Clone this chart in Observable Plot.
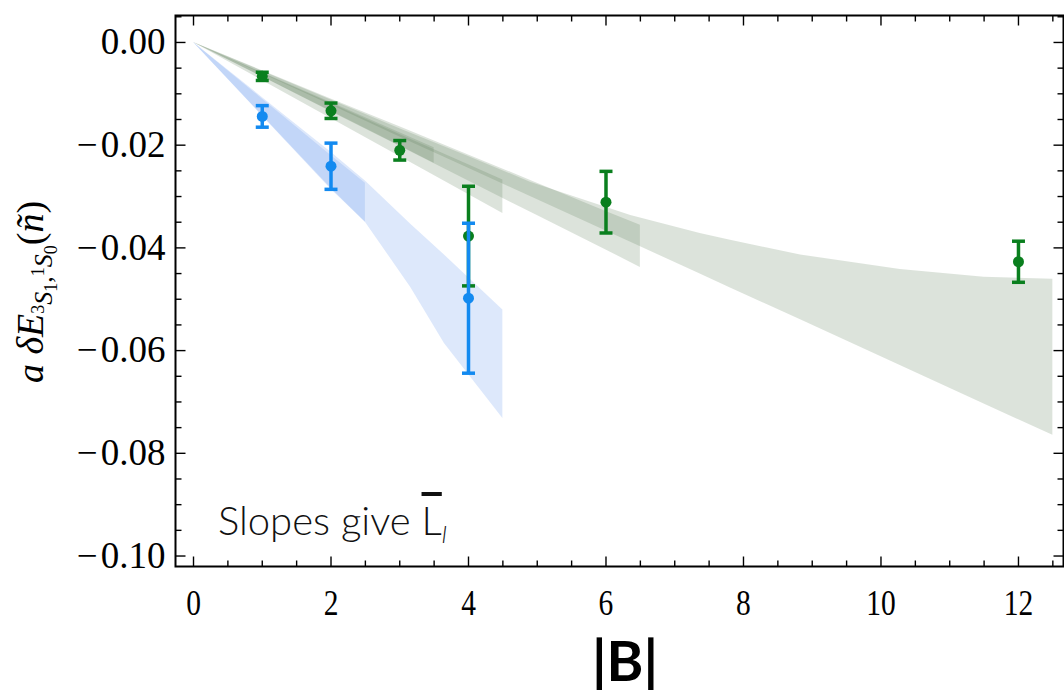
<!DOCTYPE html>
<html><head><meta charset="utf-8">
<script src="https://cdn.jsdelivr.net/npm/d3@7"></script>
<script src="https://cdn.jsdelivr.net/npm/@observablehq/plot@0.6"></script>
<style>body{margin:0;background:#fff;}</style>
</head><body><div id="chart"></div>
<script>
// ---- data ----
const greenB = [1, 2, 3, 4, 6, 12];
const greenE = [-0.0066, -0.0133, -0.0210, -0.0377, -0.0311, -0.0427];
const greenErr = [0.0008, 0.0015, 0.0019, 0.0097, 0.0060, 0.0040];
const blueB = [1, 2, 4];
const blueE = [-0.0144, -0.0241, -0.0498];
const blueErr = [0.0021, 0.0045, 0.0146];

// fit bands (blue)
const bandB1X  = [0, 1, 2, 2.5];
const bandB1Hi = [0, -0.0110, -0.0220, -0.0274];
const bandB1Lo = [0, -0.0143, -0.0286, -0.0350];
const bandB2X  = [0, 1, 2, 2.5, 3.16, 3.65, 4.5];
const bandB2Hi = [0, -0.0107, -0.0214, -0.0270, -0.0354, -0.0414, -0.0521];
const bandB2Lo = [0, -0.0142, -0.0284, -0.0350, -0.0477, -0.0586, -0.0732];
// fit bands (green)
const bandG1X  = [0, 1, 2, 3, 3.5];
const bandG1Hi = [0, -0.0059, -0.0117, -0.0176, -0.0205];
const bandG1Lo = [0, -0.0067, -0.0134, -0.0201, -0.0235];
const bandG2X  = [0, 1, 2, 3, 4, 4.5];
const bandG2Hi = [0, -0.0060, -0.0119, -0.0179, -0.0238, -0.0268];
const bandG2Lo = [0, -0.0074, -0.0148, -0.0222, -0.0296, -0.0333];
const bandG3X  = [0, 1, 2, 3, 4, 5, 6, 6.5];
const bandG3Hi = [0, -0.0055, -0.0110, -0.0164, -0.0219, -0.0274, -0.0329, -0.0356];
const bandG3Lo = [0, -0.0067, -0.0135, -0.0202, -0.0270, -0.0337, -0.0404, -0.0438];
const bandG4X  = [0, 1, 2, 3, 4, 4.9, 6.36, 7.37, 7.81, 8.83, 10.28, 11.5, 12.5];
const bandG4Hi = [0, -0.0056, -0.0112, -0.0168, -0.0222, -0.0272, -0.0337, -0.0372, -0.0385, -0.0414, -0.0442, -0.0457, -0.0461];
const bandG4Lo = [0, -0.0061, -0.0122, -0.0184, -0.0245, -0.0300, -0.0389, -0.0451, -0.0478, -0.0540, -0.0629, -0.0704, -0.0765];

// ticks
const xMajor = [0, 2, 4, 6, 8, 10, 12];
const xMinor = [0.5, 1, 1.5, 2.5, 3, 3.5, 4.5, 5, 5.5, 6.5, 7, 7.5, 8.5, 9, 9.5, 10.5, 11, 11.5, 12.5];
const yMajor = [0, -0.02, -0.04, -0.06, -0.08, -0.10];
const yMinor = [0.005, -0.005, -0.01, -0.015, -0.025, -0.03, -0.035, -0.045, -0.05, -0.055, -0.065, -0.07, -0.075, -0.085, -0.09, -0.095];

const GREEN = "#0a7f1e", BLUE = "#138af0";
const BLUE_BAND = "#6495ed", GREEN_BAND = "#5f7f5a";

// ---- tables ----
const band = (X, Lo, Hi) => X.map((x, i) => ({x, lo: Lo[i], hi: Hi[i]}));
const pts = (B, E, Er) => B.map((b, i) => ({b, e: E[i], lo: E[i] - Er[i], hi: E[i] + Er[i]}));
const green = pts(greenB, greenE, greenErr);
const blue = pts(blueB, blueE, blueErr);

// symbols
const capSym = {draw(c) { c.moveTo(-6.5, 0); c.lineTo(6.5, 0); }};
const seg = (dx, dy) => ({draw(c) { c.moveTo(0, 0); c.lineTo(dx, dy); }});

const tickMarks = [];
const tk = (data, ch, anchor, sym) => tickMarks.push(Plot.dot(data, {[ch]: d => d, frameAnchor: anchor, symbol: sym, stroke: "black", strokeWidth: 1.4, fill: "none"}));
tk(yMajor, "y", "left", seg(10, 0)); tk(yMinor, "y", "left", seg(6, 0));
tk(yMajor, "y", "right", seg(-10, 0)); tk(yMinor, "y", "right", seg(-6, 0));
tk(xMajor, "x", "bottom", seg(0, -10)); tk(xMinor, "x", "bottom", seg(0, -6));
tk(xMajor, "x", "top", seg(0, 10)); tk(xMinor, "x", "top", seg(0, 6));

const areaOpts = (fill) => ({x: "x", y1: "lo", y2: "hi", fill, fillOpacity: 0.22});
const errMarks = (data, color) => [
  Plot.ruleX(data, {x: "b", y1: "lo", y2: "hi", stroke: color, strokeWidth: 3.5}),
  Plot.dot(data, {x: "b", y: "hi", symbol: capSym, stroke: color, strokeWidth: 3.5, fill: "none"}),
  Plot.dot(data, {x: "b", y: "lo", symbol: capSym, stroke: color, strokeWidth: 3.5, fill: "none"}),
  Plot.dot(data, {x: "b", y: "e", r: 5.5, fill: color, stroke: "none"})
];

const fmtY = d => (d < 0 ? "\u2212\u200a" : "") + Math.abs(d).toFixed(2);

const plot = Plot.plot({
  width: 1064, height: 693,
  marginLeft: 175, marginRight: 1, marginTop: 15, marginBottom: 127,
  x: {domain: [-0.262, 12.655]},
  y: {domain: [-0.10204, 0.00525]},
  style: {fontFamily: "'Liberation Serif', serif", fontSize: "37px", color: "black", background: "white"},
  marks: [
    Plot.areaY(band(bandG4X, bandG4Lo, bandG4Hi), areaOpts(GREEN_BAND)),
    Plot.areaY(band(bandG3X, bandG3Lo, bandG3Hi), areaOpts(GREEN_BAND)),
    Plot.areaY(band(bandG2X, bandG2Lo, bandG2Hi), areaOpts(GREEN_BAND)),
    Plot.areaY(band(bandG1X, bandG1Lo, bandG1Hi), areaOpts(GREEN_BAND)),
    Plot.areaY(band(bandB2X, bandB2Lo, bandB2Hi), areaOpts(BLUE_BAND)),
    Plot.areaY(band(bandB1X, bandB1Lo, bandB1Hi), areaOpts(BLUE_BAND)),
    ...errMarks(green, GREEN),
    ...errMarks(blue, BLUE),
    Plot.frame({stroke: "black", strokeWidth: 2}),
    ...tickMarks,
    Plot.axisY({ticks: yMajor, tickSize: 0, tickPadding: 10, tickFormat: fmtY, label: null, fontSize: 37}),
    Plot.axisX({ticks: xMajor, tickSize: 0, tickPadding: 23, tickFormat: d => String(d), label: null, fontSize: 36})
  ]
});
document.getElementById("chart").appendChild(plot);

const svg = d3.select(plot);
// squeeze x tick labels like the reference
svg.selectAll('[aria-label="x-axis tick label"] text').each(function() {
  const t = this.getAttribute("transform") || "";
  this.setAttribute("transform", t + " scale(0.82,1)");
});

// y-axis label with sub/superscripts
const yl = svg.append("text")
  .attr("transform", "translate(43,292) rotate(-90)")
  .attr("text-anchor", "middle")
  .style("font-family", "'Liberation Serif', serif")
  .style("fill", "black");
// [text, dy relative to previous baseline, font size, style]
const parts = [
  ["a \u03b4E", 0, 38, "italic"],
  ["3", 1, 18, "normal"],
  ["S", 8, 26, "italic"],
  ["1", 5, 18, "normal"],
  [",", -5, 26, "normal"],
  ["1", -8, 18, "normal"],
  ["S", 8, 26, "italic"],
  ["0", 5, 18, "normal"],
  ["(", -14, 38, "normal"],
  ["\u00f1", 0, 38, "italic"],
  [")", 0, 38, "normal"]
];
parts.forEach(([txt, dy, fs, st]) => yl.append("tspan").attr("dy", dy).style("font-size", fs + "px").style("font-style", st).text(txt));

// annotation
const ann = svg.append("text").attr("x", 218).attr("y", 535)
  .attr("text-anchor", "start")
  .style("font-family", "Lato, 'Open Sans', sans-serif").style("font-weight", 300)
  .style("font-size", "40px").style("fill", "#111");
ann.append("tspan").text("Slopes give ");
ann.append("tspan").style("text-decoration", "overline").text("L");
ann.append("tspan").attr("dy", 8).style("font-size", "24px").style("font-style", "italic").text("l");

// x-axis label
svg.append("text").attr("x", 625).attr("y", 681).attr("text-anchor", "middle")
  .style("font-family", "Lato, 'Open Sans', sans-serif").style("font-weight", 700)
  .style("font-size", "56px").style("fill", "black").text("|B|");
</script>
</body></html>
